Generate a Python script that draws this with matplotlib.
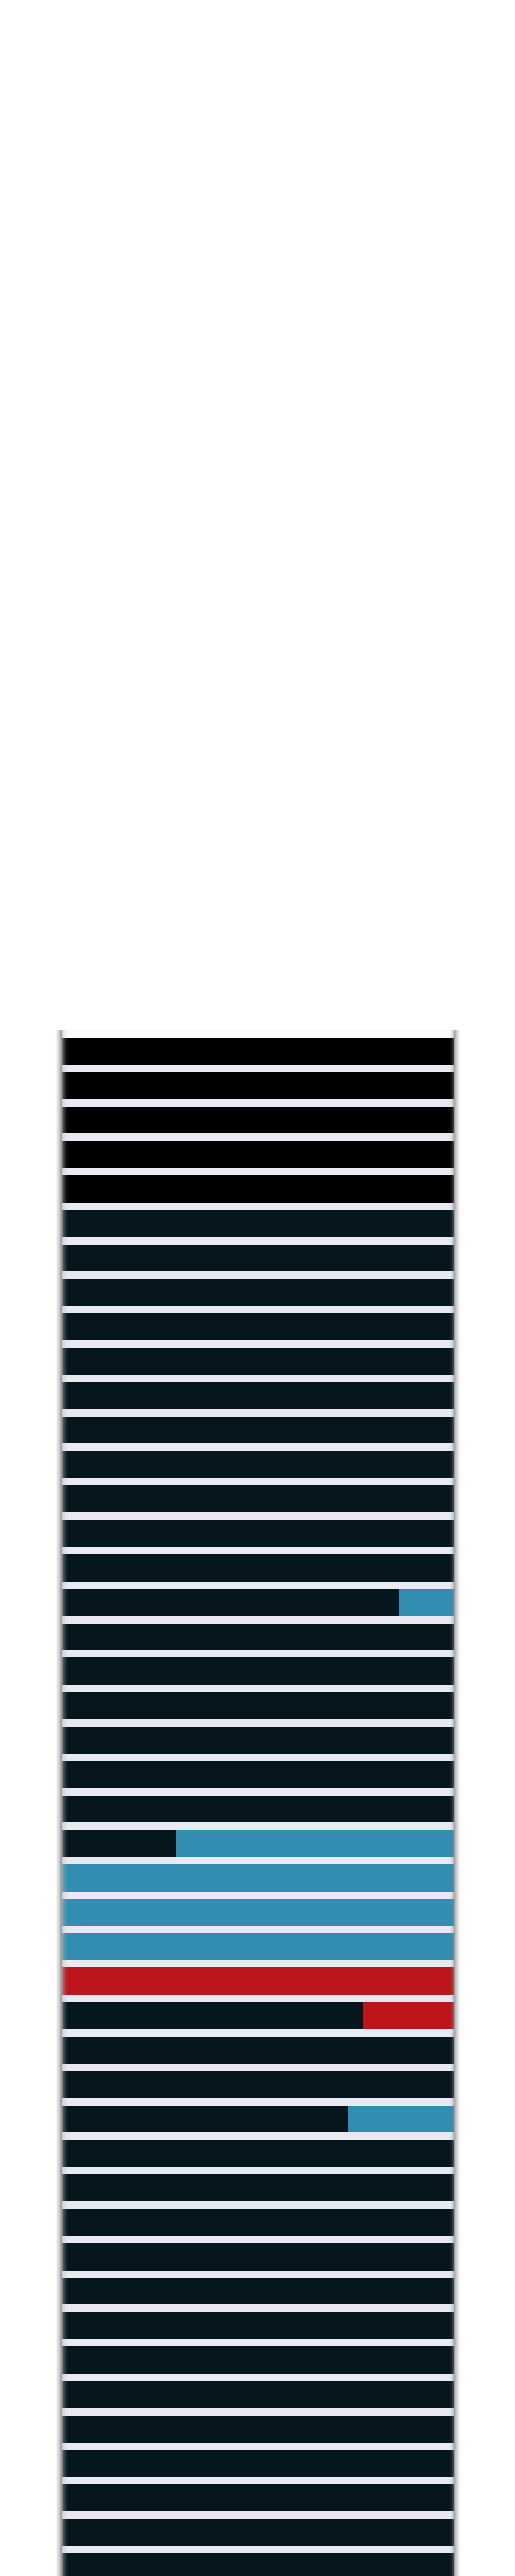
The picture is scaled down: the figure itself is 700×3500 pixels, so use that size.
"""
100% stacked horizontal bars, one row per item, dark base with coloured tails.
"""
import matplotlib
import matplotlib.pyplot as plt
from matplotlib.patches import Rectangle

matplotlib.use("Agg")

# --- Data (share of each row, rows listed top to bottom) ---
rows = [f"row {i + 1}" for i in range(45)]

black_share = [100, 100, 100, 100, 100, 0, 0, 0, 0, 0,
               0, 0, 0, 0, 0, 0, 0, 0, 0, 0,
               0, 0, 0, 0, 0, 0, 0, 0, 0, 0,
               0, 0, 0, 0, 0, 0, 0, 0, 0, 0,
               0, 0, 0, 0, 0]
navy_share = [0, 0, 0, 0, 0, 100, 100, 100, 100, 100,
              100, 100, 100, 100, 100, 100, 86, 100, 100, 100,
              100, 100, 100, 29, 0, 0, 0, 0, 77, 100,
              100, 73, 100, 100, 100, 100, 100, 100, 100, 100,
              100, 100, 100, 100, 100]
blue_share = [0, 0, 0, 0, 0, 0, 0, 0, 0, 0,
              0, 0, 0, 0, 0, 0, 14, 0, 0, 0,
              0, 0, 0, 71, 100, 100, 100, 0, 0, 0,
              0, 27, 0, 0, 0, 0, 0, 0, 0, 0,
              0, 0, 0, 0, 0]
red_share = [0, 0, 0, 0, 0, 0, 0, 0, 0, 0,
             0, 0, 0, 0, 0, 0, 0, 0, 0, 0,
             0, 0, 0, 0, 0, 0, 0, 100, 23, 0,
             0, 0, 0, 0, 0, 0, 0, 0, 0, 0,
             0, 0, 0, 0, 0]

# --- Style ---
BLACK = "#000000"
NAVY = "#06161D"
BLUE = "#318EB0"
RED = "#BC151C"
FACE = "#E9E9F2"

W, H, DPI = 700, 3500, 100
AX_LEFT, AX_RIGHT, AX_TOP = 84.0, 617.0, 1400.0
AX_W = AX_RIGHT - AX_LEFT

fig = plt.figure(figsize=(W / DPI, H / DPI), dpi=DPI)
fig.patch.set_facecolor("white")

ax = fig.add_axes([AX_LEFT / W, 0.0, AX_W / W, 1 - AX_TOP / H])
ax.set_facecolor(FACE)

# soft shadow either side of the plot panel
for k in range(9):
    a = 0.6 * (1 - k / 9) ** 1.5
    for x0 in (AX_LEFT - 1 - k, AX_RIGHT + k):
        fig.patches.append(Rectangle((x0 / W, 0), 1 / W, 1 - AX_TOP / H,
                                     transform=fig.transFigure, facecolor="#5e5e5e",
                                     alpha=a, edgecolor="none", zorder=0))

ypos = list(range(len(rows)))
height = 0.784
left = [0] * len(rows)
for vals, col in [(black_share, BLACK), (navy_share, NAVY),
                  (blue_share, BLUE), (red_share, RED)]:
    ax.barh(ypos, vals, left=left, height=height, color=col, edgecolor="none", zorder=2)
    left = [l + v for l, v in zip(left, vals)]

# light fade along the inner edges of the bars
for k in range(10):
    a = 0.6 * (1 - k / 10) ** 2
    ax.add_patch(Rectangle((k / AX_W, 0), 1 / AX_W, 1, transform=ax.transAxes,
                           facecolor="#b8bcc0", alpha=a, edgecolor="none", zorder=3))
for k in range(7):
    a = 0.4 * (1 - k / 7) ** 2
    ax.add_patch(Rectangle((1 - (k + 1) / AX_W, 0), 1 / AX_W, 1, transform=ax.transAxes,
                           facecolor="#8a9095", alpha=a, edgecolor="none", zorder=3))

# whitish strip above the first bar
ax.add_patch(Rectangle((0, 1 - 10 / (H - AX_TOP)), 1, 10 / (H - AX_TOP),
                       transform=ax.transAxes, facecolor="#fbfbfd",
                       edgecolor="none", zorder=1))

ax.set_xlim(0, 100)
ax.set_ylim(44.27, -0.606)
ax.set_xticks([])
ax.set_yticks([])
for s in ax.spines.values():
    s.set_visible(False)

fig.savefig("out.png", dpi=DPI, facecolor=fig.get_facecolor())
